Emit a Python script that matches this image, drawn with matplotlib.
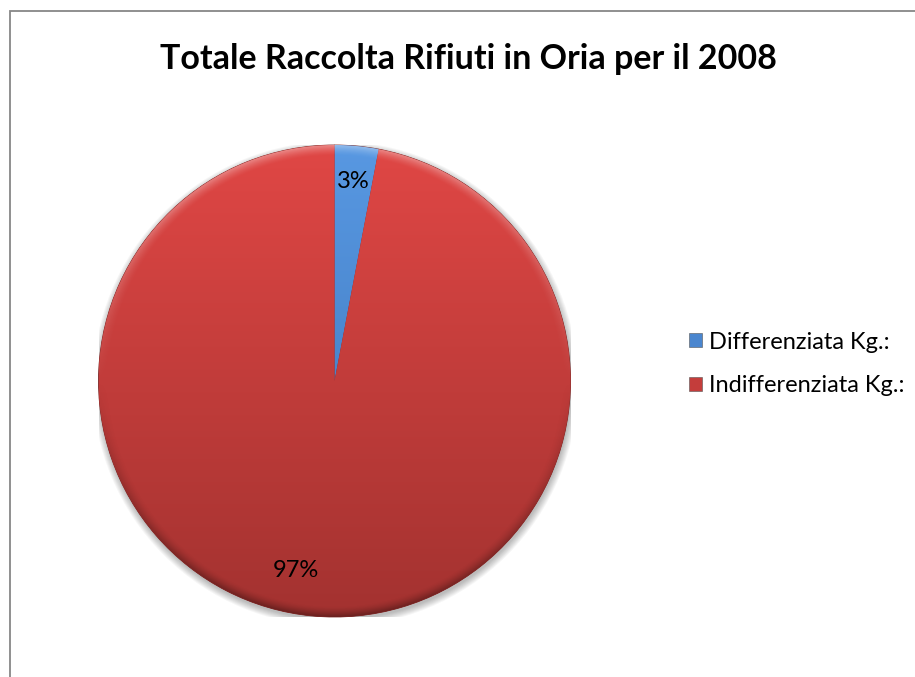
import numpy as np
import matplotlib.pyplot as plt
from matplotlib.colors import LinearSegmentedColormap
from matplotlib.patches import Rectangle, Circle, Patch

title = "Totale Raccolta Rifiuti in Oria per il 2008"
labels = ["Differenziata Kg.:", "Indifferenziata Kg.:"]
shares = [3, 97]

# light (top) and dark (bottom) tones for each slice
top_cols = ["#5898E2", "#E04745"]
bot_cols = ["#3A72B6", "#A33230"]
mid_cols = ["#4A86CF", "#C43D3B"]

plt.rcParams['font.family'] = ['Lato', 'DejaVu Sans']

W, H = 915, 677
fig = plt.figure(figsize=(W / 100, H / 100), dpi=100)

# outer chart frame, only top and left edges fall inside the image
fig.patches.append(Rectangle((9.5 / W, -0.1), 1.2, (H - 10.5) / H + 0.1,
                             transform=fig.transFigure, fill=False,
                             edgecolor="#878787", linewidth=1.3))

fig.text(468 / W, 1 - 59 / H, title, ha="center", va="center",
         fontsize=24.5, fontweight="bold", color="black")

cx, cy, R = 334.5, 296, 236
ax = fig.add_axes([(cx - R) / W, (cy - R) / H, 2 * R / W, 2 * R / H])

# soft drop shadow under the pie
for k in range(8):
    ax.add_patch(Circle((0.004, -0.012), 1.0 + k * 0.004, color="black",
                        alpha=0.035, lw=0, zorder=0))

wedges, texts, autotexts = ax.pie(
    shares, startangle=90, counterclock=False, radius=1,
    colors=mid_cols, autopct="%1.0f%%", pctdistance=0.85,
    wedgeprops=dict(edgecolor="#7a2322", linewidth=0.6, zorder=1),
    textprops=dict(fontsize=17, color="black"))

# vertical gradient fill clipped to each slice
yy = np.linspace(1, 0, 256).reshape(-1, 1)
for w, c0, c1 in zip(wedges, top_cols, bot_cols):
    cmap = LinearSegmentedColormap.from_list("g", [c1, c0])
    im = ax.imshow(np.repeat(yy, 2, axis=1), extent=(-1, 1, -1, 1),
                   cmap=cmap, vmin=0, vmax=1, aspect="auto", zorder=2,
                   interpolation="bilinear")
    im.set_clip_path(w)

# bevelled rim: lighter towards the top, darker towards the bottom
n = 700
g = np.linspace(-1, 1, n)
X, Y = np.meshgrid(g, g[::-1])
r = np.hypot(X, Y)
rim = np.clip((r - 0.955) / 0.045, 0, 1) ** 1.5
shade = np.zeros((n, n, 4))
up = np.clip(Y, 0, 1)
down = np.clip(-Y, 0, 1)
shade[..., :3] = np.where((Y > 0)[..., None], 1.0, 0.0)
shade[..., 3] = rim * np.where(Y > 0, 0.35 * up, 0.35 * down)
bev = ax.imshow(shade, extent=(-1, 1, -1, 1), aspect="auto", zorder=3,
                interpolation="bilinear")
bev.set_clip_path(Circle((0, 0), 1.0, transform=ax.transData))

for t in autotexts:
    t.set_zorder(5)
# pull the large label towards the lower left
ang = np.deg2rad(90 - 360 * (shares[0] + shares[1] / 2) / 100 - 6)
autotexts[1].set_position((0.82 * np.cos(ang), 0.82 * np.sin(ang)))

ax.set_xlim(-1, 1)
ax.set_ylim(-1, 1)
ax.set_aspect("equal")
ax.axis("off")

handles = [Patch(facecolor=c, edgecolor="#555555", linewidth=0.4) for c in mid_cols]
fig.legend(handles, labels, loc="center left",
           bbox_to_anchor=(677 / W, 1 - 364 / H), frameon=False,
           fontsize=17, handlelength=0.55, handleheight=0.55,
           handletextpad=0.3, labelspacing=0.96, borderpad=0)

fig.savefig("out.png", dpi=100, facecolor="white")
